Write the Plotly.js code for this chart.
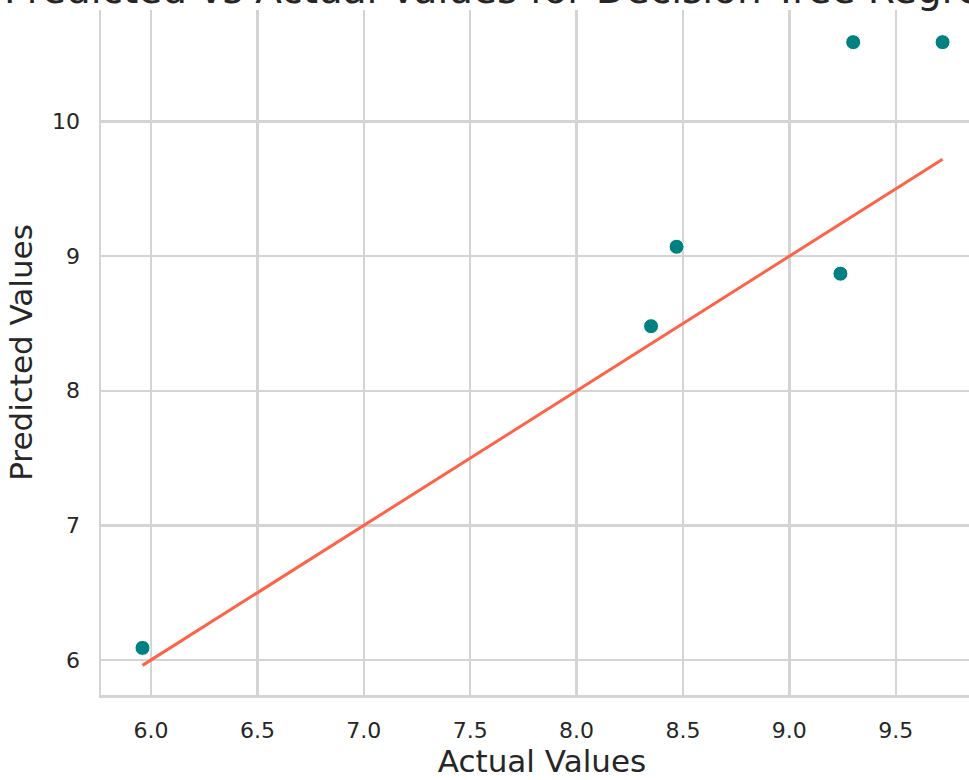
<!DOCTYPE html>
<html>
<head>
<meta charset="utf-8">
<script src="https://cdn.plot.ly/plotly-3.0.1.min.js"></script>
<style>
  html, body { margin: 0; padding: 0; overflow: hidden; background: #fff; }
  #chart { width: 1000px; height: 780px; }
</style>
</head>
<body>
<div id="chart"></div>
<script>
// Decision tree regression: actual vs predicted on the test split
const actualValues = [5.96, 8.35, 8.47, 9.24, 9.30, 9.72];
const predictedValues = [6.09, 8.48, 9.07, 8.87, 10.59, 10.59];

const xTickVals = [6.0, 6.5, 7.0, 7.5, 8.0, 8.5, 9.0, 9.5];
const xTickText = ['6.0', '6.5', '7.0', '7.5', '8.0', '8.5', '9.0', '9.5'];
const yTickVals = [6, 7, 8, 9, 10];
const yTickText = ['6', '7', '8', '9', '10'];

// identity reference line spanning the observed range
const lo = Math.min(...actualValues);
const hi = Math.max(...actualValues);
const idealX = [lo, hi];
const idealY = [lo, hi];

const font = 'DejaVu Sans, sans-serif';
const ink = '#262626';
const grid = '#d4d4d4';

const traces = [
  {
    x: actualValues,
    y: predictedValues,
    type: 'scatter',
    mode: 'markers',
    marker: { color: '#008080', size: 15, line: { color: '#ffffff', width: 1 } },
    hoverinfo: 'x+y'
  },
  {
    x: idealX,
    y: idealY,
    type: 'scatter',
    mode: 'lines',
    line: { color: '#ff6347', width: 3 },
    hoverinfo: 'skip'
  }
];

const layout = {
  width: 1000,
  height: 780,
  margin: { l: 101, r: 17, t: 10, b: 85 },
  paper_bgcolor: '#ffffff',
  plot_bgcolor: '#ffffff',
  showlegend: false,
  font: { family: font, color: ink },
  xaxis: {
    range: [5.765, 9.91],
    tickvals: xTickVals,
    ticktext: xTickText,
    showgrid: true,
    gridcolor: grid,
    gridwidth: 2.5,
    zeroline: false,
    showline: true,
    linecolor: grid,
    linewidth: 2.5,
    ticks: 'outside',
    ticklen: 14,
    tickcolor: 'rgba(0,0,0,0)',
    tickfont: { family: font, size: 22, color: ink },
    title: { text: 'Actual Values', font: { family: font, size: 31, color: ink }, standoff: 6 }
  },
  yaxis: {
    range: [5.74, 10.829],
    tickvals: yTickVals,
    ticktext: yTickText,
    showgrid: true,
    gridcolor: grid,
    gridwidth: 2.5,
    zeroline: false,
    showline: true,
    linecolor: grid,
    linewidth: 2.5,
    ticks: 'outside',
    ticklen: 14,
    tickcolor: 'rgba(0,0,0,0)',
    tickfont: { family: font, size: 22, color: ink },
    title: { text: 'Predicted Values', font: { family: font, size: 31, color: ink }, standoff: 10 }
  },
  annotations: [
    {
      text: 'Predicted vs Actual Values for Decision Tree Regression',
      xref: 'paper', yref: 'paper',
      x: 0.5, y: 1.0,
      xanchor: 'center', yanchor: 'bottom',
      yshift: -4,
      showarrow: false,
      font: { family: font, size: 39, color: ink }
    }
  ]
};

Plotly.newPlot('chart', traces, layout, { displayModeBar: false, staticPlot: true });
</script>
</body>
</html>
